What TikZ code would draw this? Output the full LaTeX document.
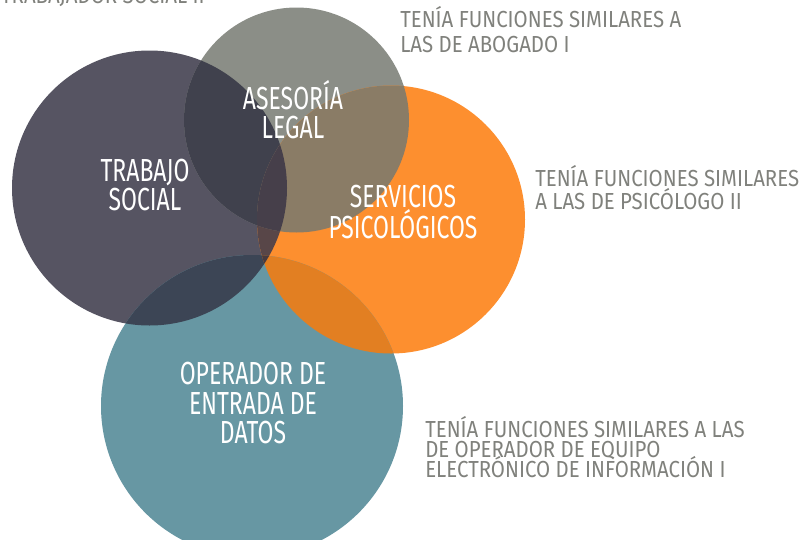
\documentclass[tikz,border=0pt]{standalone}
\usepackage{fontspec}
\newfontfamily\narrowfont[FakeStretch=0.72]{Fira Sans}
\newfontfamily\notefont[FakeStretch=0.88]{Fira Sans}
\newcommand\tightlines{\lineskiplimit=-20pt\relax}
\definecolor{tsColor}{RGB}{86,84,98}
\definecolor{alColor}{RGB}{139,142,135}
\definecolor{spColor}{RGB}{253,143,47}
\definecolor{opColor}{RGB}{103,151,163}
\definecolor{tsalColor}{RGB}{64,65,77}
\definecolor{alspColor}{RGB}{138,124,102}
\definecolor{tsspColor}{RGB}{88,70,72}
\definecolor{tsalspColor}{RGB}{70,63,74}
\definecolor{tsopColor}{RGB}{60,69,85}
\definecolor{spopColor}{RGB}{226,127,34}
\definecolor{tsspopColor}{RGB}{72,58,62}
\definecolor{noteGray}{RGB}{128,129,124}
\begin{document}
\begin{tikzpicture}[
    area/.style={circle, inner sep=0pt, outer sep=0pt},
    inText/.style={text=white, align=center, inner sep=0pt,
        font=\narrowfont\fontsize{22.7}{20.8}\selectfont},
    noteText/.style={text=noteGray, align=left, inner sep=0pt, anchor=west,
        font=\notefont\fontsize{16.5}{17.8}\selectfont\tightlines}
]
    \path[use as bounding box, clip] (0,0) rectangle (20,-13.475);

    % the four circles
    \node[area, fill=tsColor, minimum size=6.875cm] (ts) at (3.7375,-4.7) {};
    \node[area, fill=alColor, minimum size=5.625cm] (al) at (7.4125,-3.0) {};
    \node[area, fill=spColor, minimum size=6.7cm] (sp) at (9.775,-5.4875) {};
    \node[area, fill=opColor, minimum size=7.55cm] (op) at (6.3,-10.15) {};

    % overlaps
    \begin{scope}
        \clip (ts.center) circle (3.4375);
        \fill[tsalColor] (al.center) circle (2.8125);
        \fill[tsspColor] (sp.center) circle (3.35);
        \fill[tsopColor] (op.center) circle (3.775);
    \end{scope}
    \begin{scope}
        \clip (sp.center) circle (3.35);
        \fill[alspColor] (al.center) circle (2.8125);
        \fill[spopColor] (op.center) circle (3.775);
    \end{scope}
    \begin{scope}
        \clip (ts.center) circle (3.4375);
        \clip (sp.center) circle (3.35);
        \fill[tsalspColor] (al.center) circle (2.8125);
        \fill[tsspopColor] (op.center) circle (3.775);
    \end{scope}

    % labels in the circles
    \node[inText] (tsText) at (3.625,-4.625) {TRABAJO\\SOCIAL};
    \node[inText] (alText) at (7.325,-2.75) {ASESORÍA\\LEGAL};
    \node[inText] (spText) at (10.075,-5.3) {SERVICIOS\\PSICOLÓGICOS};
    \node[inText] (opText) at (6.325,-10.075) {OPERADOR DE\\ENTRADA DE\\DATOS};

    % notes
    \node[noteText, anchor=east] (tsNote) at (5.125,0.08) {TRABAJADOR SOCIAL II};
    \node[noteText] (alNote) at (10.0,-0.75) {TENÍA FUNCIONES SIMILARES A\\LAS DE ABOGADO I};
    \node[noteText, font=\notefont\fontsize{16.5}{16.3}\selectfont\tightlines] (spNote) at (13.375,-4.7)
        {TENÍA FUNCIONES SIMILARES\\A LAS DE PSICÓLOGO II};
    \node[noteText, font=\notefont\fontsize{16.5}{14.2}\selectfont\tightlines] (opNote) at (10.625,-11.18)
        {TENÍA FUNCIONES SIMILARES A LAS\\DE OPERADOR DE EQUIPO\\ELECTRÓNICO DE INFORMACIÓN I};
\end{tikzpicture}
\end{document}
